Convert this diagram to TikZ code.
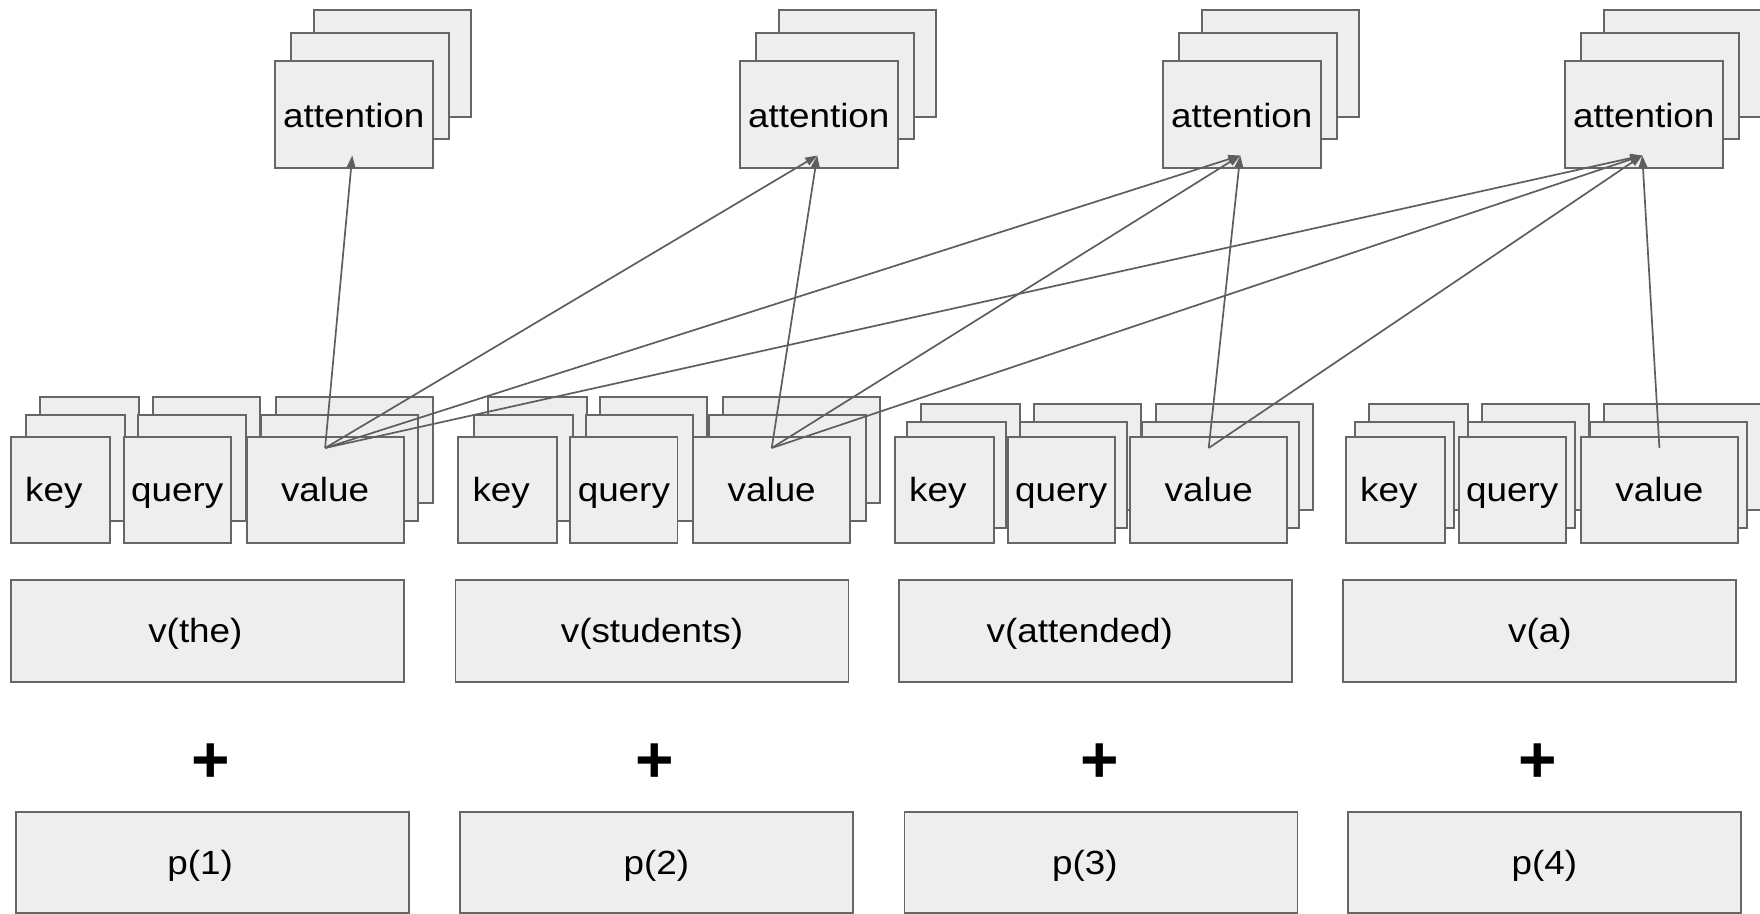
\documentclass[tikz,border=0pt]{standalone}
\usepackage{fontspec}
\setmainfont{Liberation Sans}[FakeStretch=1.1]
\newfontfamily\plusfont{Liberation Sans}
\usetikzlibrary{arrows.meta}
\definecolor{boxfill}{HTML}{EEEEEE}
\definecolor{boxline}{HTML}{666666}
\definecolor{linkgray}{HTML}{5E5E5E}
\begin{document}
\begin{tikzpicture}[x=1pt,y=-1pt,
  font=\fontsize{33.5}{40}\selectfont,
  lbl/.style={inner sep=0pt, text height=30pt, text depth=6pt},
  box/.style={draw=boxline, fill=boxfill, line width=1.8pt, inner sep=0pt,
              anchor=north west, lbl},
  kbox/.style={box, minimum width=99pt, minimum height=106pt},
  qbox/.style={box, minimum width=107.3pt, minimum height=106pt},
  vbox/.style={box, minimum width=157pt, minimum height=106pt},
  abox/.style={box, minimum width=157.7pt, minimum height=106.7pt,
               text height=32.8pt},
  wide/.style={box, minimum width=393pt, minimum height=101.7pt},
  plus/.style={inner sep=0pt, font=\plusfont\bfseries\fontsize{66}{66}\selectfont},
  link/.style={draw=linkgray, line width=1.7pt,
               -{Triangle[length=12pt,width=8.5pt]}},
  every label/.style={lbl}]
\useasboundingbox (0,0) rectangle (1760,913);

% key / query / value stacks: back copies, middle copies, front boxes
\foreach \g/\kx/\qx/\vx/\ax/\ay/\bx/\by in
  {1/10/122.7/245.7/14.7/-22/29/-40,
   2/457.3/569.3/692.3/15.7/-22/29.8/-40,
   3/894/1006.7/1129.3/12/-15/26/-33,
   4/1345/1457.7/1580/9/-15/23/-33}{
  \node[kbox] (kb\g) at (\kx+\bx,436+\by) {};
  \node[qbox] (qb\g) at (\qx+\bx,436+\by) {};
  \node[vbox] (vb\g) at (\vx+\bx,436+\by) {};
}
\foreach \g/\kx/\qx/\vx/\ax/\ay/\bx/\by in
  {1/10/122.7/245.7/14.7/-22/29/-40,
   2/457.3/569.3/692.3/15.7/-22/29.8/-40,
   3/894/1006.7/1129.3/12/-15/26/-33,
   4/1345/1457.7/1580/9/-15/23/-33}{
  \node[kbox] (km\g) at (\kx+\ax,436+\ay) {};
  \node[qbox] (qm\g) at (\qx+\ax,436+\ay) {};
  \node[vbox] (vm\g) at (\vx+\ax,436+\ay) {};
}
\foreach \g/\kx/\qx/\vx in
  {1/10/122.7/245.7, 2/457.3/569.3/692.3, 3/894/1006.7/1129.3, 4/1345/1457.7/1580}{
  \node[kbox, label={[xshift=-6.5pt]center:key}] (key\g) at (\kx,436) {};
  \node[qbox] (qry\g) at (\qx,436) {query};
  \node[vbox] (val\g) at (\vx,436) {value};
  \coordinate (s\g) at ([yshift=-12pt]val\g.north);
}

% attention stacks
\foreach \g/\x in {1/274, 2/739, 3/1162, 4/1564}{
  \node[abox] (ab\g) at (\x+38.7,60-51) {};
}
\foreach \g/\x in {1/274, 2/739, 3/1162, 4/1564}{
  \node[abox] (am\g) at (\x+16,60-28.3) {};
}
\foreach \g/\x in {1/274, 2/739, 3/1162, 4/1564}{
  \node[abox] (att\g) at (\x,60) {attention};
  \coordinate (t\g) at ([xshift=-1.5pt,yshift=13pt]att\g.south);
}

% word embeddings, plus signs and position embeddings
\node[wide, label={[xshift=-12pt]center:v(the)}] (w1) at (10,579) {};
\node[wide] (w2) at (454.6,579) {v(students)};
\node[wide, label={[xshift=-15.5pt]center:v(attended)}] (w3) at (897.9,579) {};
\node[wide] (w4) at (1342.4,579) {v(a)};

\node[plus] (plus1) at (210.7,763) {+};
\node[plus] (plus2) at (654.4,763) {+};
\node[plus] (plus3) at (1100,763) {+};
\node[plus] (plus4) at (1537.7,763) {+};

\node[wide, label={[xshift=-12pt]center:p(1)}] (p1) at (14.7,810.7) {};
\node[wide] (p2) at (459,810.7) {p(2)};
\node[wide, label={[xshift=-16pt]center:p(3)}] (p3) at (903.5,810.7) {};
\node[wide] (p4) at (1346.9,810.7) {p(4)};

% each value feeds the attention of its own and every later position
\foreach \s/\t in {1/1,1/2,1/3,1/4,2/2,2/3,2/4,3/3,3/4,4/4}
  \draw[link] (s\s) -- (t\t);
\end{tikzpicture}
\end{document}
